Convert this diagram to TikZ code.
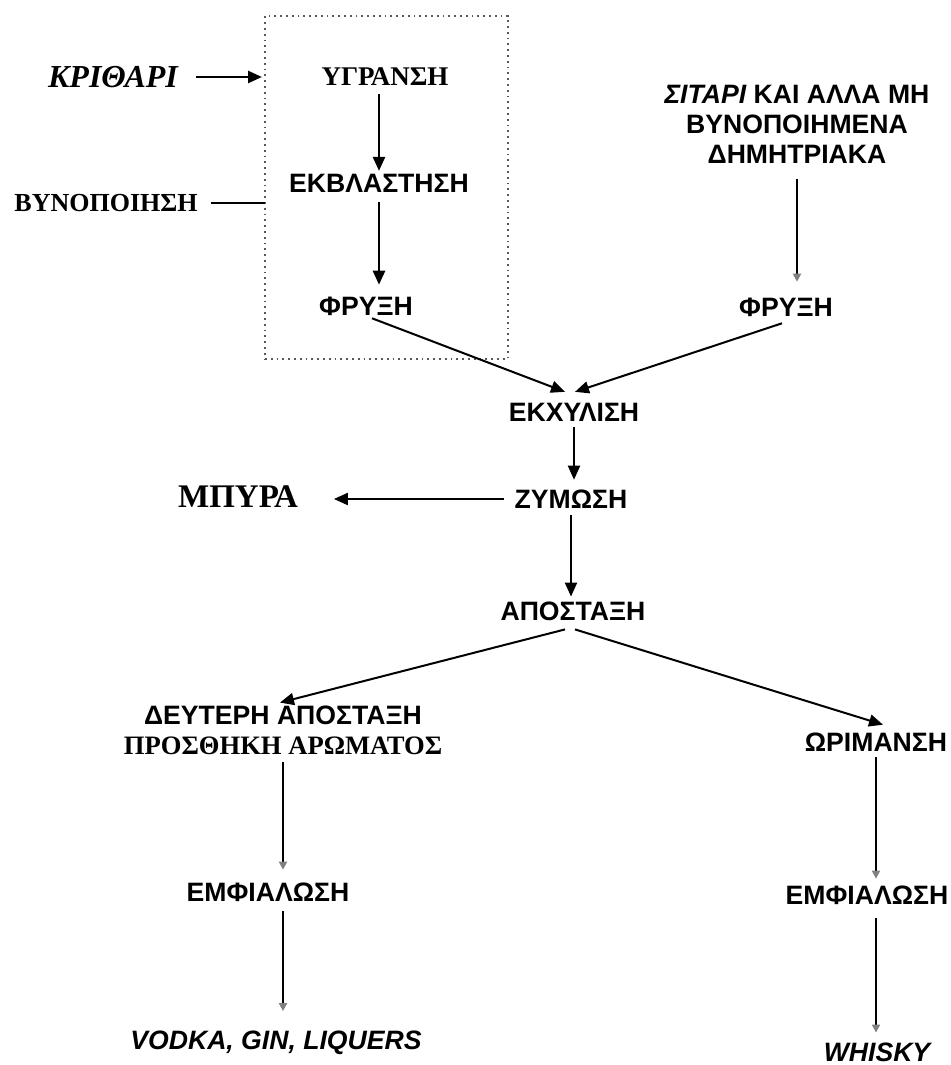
\documentclass[tikz,border=0pt]{standalone}
\usepackage{fontspec}
\setmainfont{Liberation Serif}
\setsansfont{Liberation Sans}
\usetikzlibrary{arrows.meta,calc}
\begin{document}
\begin{tikzpicture}[x=0.5pt,y=-0.5pt,
  every node/.style={inner sep=0pt, outer sep=0pt},
  sb/.style={font=\sffamily\bfseries\fontsize{13.3}{15}\selectfont},
  sbi/.style={font=\sffamily\bfseries\itshape\fontsize{13.3}{15}\selectfont},
  rb/.style={font=\rmfamily\bfseries\fontsize{13.5}{15}\selectfont},
  rbi/.style={font=\rmfamily\bfseries\itshape\fontsize{16}{18}\selectfont},
  arr/.style={line width=1pt, -{Triangle[length=7pt,width=6pt]}},
  farr/.style={line width=0.9pt, -{Triangle[length=4pt,width=4pt,color=gray]}},
  ln/.style={line width=1pt},
  boxst/.style={draw=gray!70!black, dotted, line width=0.9pt, minimum width=121.5pt, minimum height=171.5pt}
]
\useasboundingbox (0,0) rectangle (950,1065);

% dotted box (malting)
\node[boxst] (box) at (386.5,187.5) {};

% nodes
\node[rbi] (krith) at (113,77) {ΚΡΙΘΑΡΙ};
\node[rb] (ygr) at (385,77) {ΥΓΡΑΝΣΗ};
\node[rb, font=\rmfamily\bfseries\fontsize{13}{15}\selectfont] (vyn) at (106,203) {ΒΥΝΟΠΟΙΗΣΗ};
\node[sb] (ekvl) at (379,183) {ΕΚΒΛΑΣΤΗΣΗ};
\node[sb] (fry1) at (366,306) {ΦΡΥΞΗ};
\node[sb, align=center] (sit) at (797,124) {{\itshape ΣΙΤΑΡΙ} ΚΑΙ ΑΛΛΑ ΜΗ\\ΒΥΝΟΠΟΙΗΜΕΝΑ\\ΔΗΜΗΤΡΙΑΚΑ};
\node[sb] (fry2) at (786,307) {ΦΡΥΞΗ};
\node[sb] (ekx) at (574,412) {ΕΚΧΥΛΙΣΗ};
\node[sb] (zym) at (571,499) {ΖΥΜΩΣΗ};
\node[font=\rmfamily\bfseries\fontsize{16.5}{18}\selectfont] (bira) at (238,497) {ΜΠΥΡΑ};
\node[sb] (apo) at (573,611) {ΑΠΟΣΤΑΞΗ};
\node[sb, align=center] (deut) at (283,730) {ΔΕΥΤΕΡΗ ΑΠΟΣΤΑΞΗ\\{\rmfamily ΠΡΟΣΘΗΚΗ ΑΡΩΜΑΤΟΣ}};
\node[sb] (emf1) at (268,892) {ΕΜΦΙΑΛΩΣΗ};
\node[sbi] (vodka) at (276,1043) {VODKA, GIN, LIQUERS};
\node[sb] (orim) at (876,742) {ΩΡΙΜΑΝΣΗ};
\node[sb] (emf2) at (867,895) {ΕΜΦΙΑΛΩΣΗ};
\node[sbi] (whisky) at (877,1052) {WHISKY};

% connectors
\draw[arr, line width=1.3pt, shorten <=9pt, shorten >=1.5pt] (krith.east) -- (krith -| box.west);
\draw[ln, shorten <=6.5pt] (vyn.east) -- (vyn -| box.west);
\draw[arr, line width=1.3pt, shorten <=4pt, shorten >=1.5pt] (ekvl.north |- ygr.south) -- (ekvl.north);
\draw[arr, line width=1.3pt, shorten <=5pt, shorten >=6pt] (ekvl.south) -- (ekvl.south |- fry1.north);
\draw[arr] ($(fry1.south)+(6,3)$) -- ($(ekx.north)+(-9,-11)$);
\draw[arr] ($(fry2.south)+(-4,7)$) -- ($(ekx.north)+(1,-11)$);
\draw[farr, shorten <=8pt, shorten >=8pt] (sit.south) -- (sit.south |- fry2.north);
\draw[arr, shorten <=3pt, shorten >=5pt] (ekx.south) -- (ekx.south |- zym.north);
\draw[arr, shorten <=5.5pt, shorten >=18pt] (zym.west) -- (zym.west -| bira.east);
\draw[arr, shorten <=3.5pt, shorten >=2.5pt] (zym.south) -- (zym.south |- apo.north);
\draw[arr] ($(apo.south)+(-8,9)$) -- ($(deut.north)+(-3,-3)$);
\draw[arr] ($(apo.south)+(2,9)$) -- ($(orim.north)+(7,-8)$);
\draw[farr, shorten <=4pt, shorten >=6.5pt] (deut.south) -- (deut.south |- emf1.north);
\draw[farr, shorten <=5pt, shorten >=10pt] (deut.south |- emf1.south) -- (deut.south |- vodka.north);
\draw[farr, shorten <=3pt, shorten >=3.5pt] (orim.south) -- (orim.south |- emf2.north);
\draw[farr, shorten <=7pt, shorten >=5pt] (orim.south |- emf2.south) -- (orim.south |- whisky.north);
\end{tikzpicture}
\end{document}
